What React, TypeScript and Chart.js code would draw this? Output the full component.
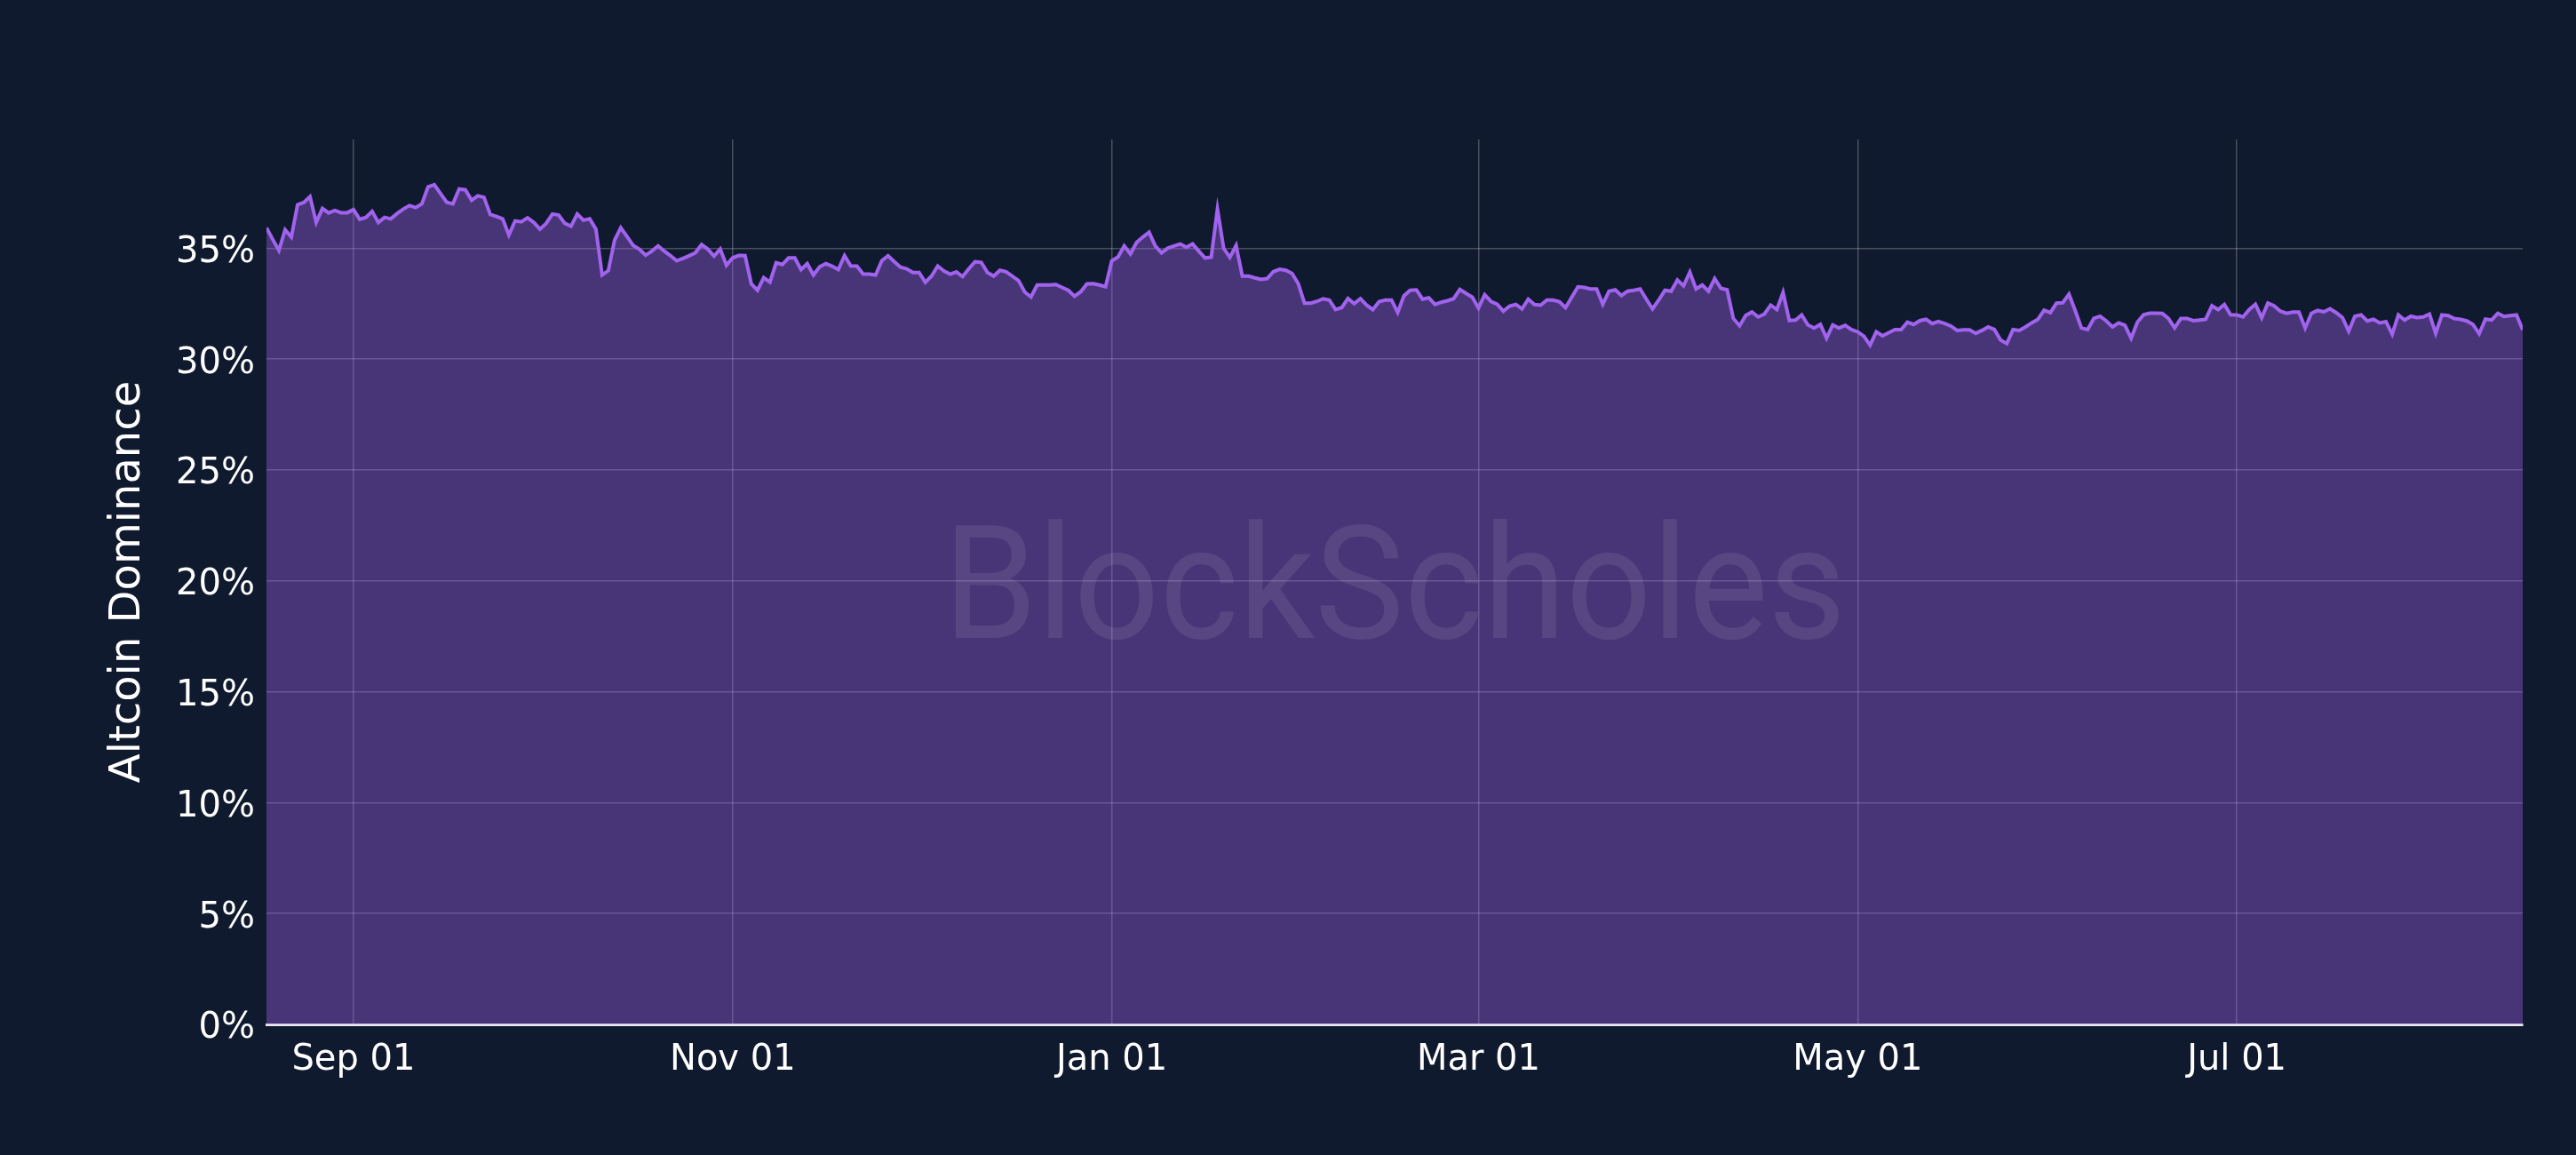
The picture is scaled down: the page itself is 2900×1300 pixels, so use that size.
import { useEffect, useRef } from 'react';
import { Chart, registerables } from 'chart.js';

Chart.register(...registerables);

// daily series, first point is Aug 18
const startDate = Date.UTC(2024, 7, 18);

const augSep = [
  35.92, 35.4, 34.9, 35.83, 35.5, 36.96, 37.06, 37.32, 36.16, 36.79,
  36.59, 36.7, 36.6, 36.6, 36.74, 36.3, 36.39, 36.66, 36.16, 36.39,
  36.32, 36.56, 36.76, 36.92, 36.83, 37.0, 37.76, 37.86, 37.46, 37.07,
  37.0, 37.67, 37.63, 37.16, 37.36, 37.29, 36.52, 36.43, 36.32, 35.59,
  36.23, 36.19, 36.37, 36.16,
];
const octNov = [
  35.86, 36.12, 36.54, 36.49, 36.12, 35.99, 36.54, 36.26, 36.32, 35.86,
  33.79, 33.99, 35.36, 35.92, 35.53, 35.12, 34.95, 34.68, 34.87, 35.1,
  34.87, 34.66, 34.43, 34.54, 34.66, 34.79, 35.16, 34.96, 34.64, 34.96,
  34.23, 34.56, 34.67, 34.66, 33.39, 33.1, 33.67, 33.47, 34.34, 34.26,
  34.56, 34.56, 34.03, 34.3, 33.79, 34.16, 34.3, 34.19, 34.03, 34.66,
  34.2, 34.19, 33.83, 33.83, 33.79, 34.43, 34.66, 34.39, 34.14, 34.07,
  33.9,
];
const decJan = [
  33.9, 33.46, 33.74, 34.19, 33.97, 33.83, 33.93, 33.72, 34.07, 34.39,
  34.36, 33.9, 33.74, 34.0, 33.94, 33.74, 33.54, 33.02, 32.8, 33.34,
  33.34, 33.34, 33.36, 33.23, 33.1, 32.83, 33.03, 33.39, 33.4, 33.34,
  33.26, 34.43, 34.6, 35.1, 34.74, 35.26, 35.5, 35.72, 35.1, 34.79,
  35.0, 35.1, 35.19, 35.04, 35.19, 34.87, 34.56, 34.59, 36.76, 34.99,
  34.59, 35.12, 33.74, 33.74, 33.66, 33.59, 33.63, 33.94, 34.05, 34.0,
  33.86, 33.4,
];
const febMar = [
  32.52, 32.52, 32.6, 32.72, 32.66, 32.23, 32.32, 32.73, 32.5, 32.72,
  32.43, 32.23, 32.59, 32.66, 32.66, 32.1, 32.85, 33.1, 33.12, 32.7,
  32.76, 32.46, 32.56, 32.63, 32.72, 33.14, 32.96, 32.79, 32.3, 32.9,
  32.6, 32.47, 32.16, 32.39, 32.46, 32.26, 32.7, 32.46, 32.43, 32.66,
  32.66, 32.59, 32.32, 32.79, 33.26, 33.23, 33.16, 33.16, 32.47, 33.06,
  33.12, 32.86, 33.06, 33.1, 33.16, 32.7, 32.26, 32.66, 33.1,
];
const aprMay = [
  33.06, 33.56, 33.3, 33.92, 33.16, 33.34, 33.06, 33.63, 33.19, 33.12,
  31.83, 31.5, 31.97, 32.12, 31.9, 32.03, 32.43, 32.23, 33.0, 31.74,
  31.76, 31.99, 31.54, 31.4, 31.56, 30.94, 31.54, 31.4, 31.52, 31.33,
  31.23, 31.03, 30.63, 31.23, 31.05, 31.19, 31.33, 31.33, 31.66, 31.56,
  31.73, 31.79, 31.6, 31.69, 31.6, 31.49, 31.29, 31.32, 31.32, 31.16,
  31.29, 31.45, 31.33, 30.86, 30.7, 31.33, 31.29, 31.45, 31.63, 31.79,
  32.2,
];
const junAug = [
  32.09, 32.52, 32.54, 32.92, 32.19, 31.4, 31.33, 31.83, 31.93, 31.72,
  31.45, 31.63, 31.52, 30.94, 31.66, 32.0, 32.07, 32.07, 32.06, 31.83,
  31.4, 31.83, 31.83, 31.73, 31.76, 31.79, 32.4, 32.23, 32.46, 32.0,
  31.99, 31.9, 32.23, 32.47, 31.86, 32.52, 32.4, 32.16, 32.06, 32.12,
  32.12, 31.4, 32.06, 32.19, 32.13, 32.27, 32.09, 31.87, 31.26, 31.93,
  31.99, 31.72, 31.79, 31.63, 31.69, 31.12, 31.99, 31.76, 31.93, 31.87,
  31.9, 32.03, 31.16, 31.99, 31.96, 31.83, 31.79, 31.72, 31.56, 31.14,
  31.8, 31.76, 32.06, 31.92, 31.96, 31.99, 31.32,
];

const dominance = [...augSep, ...octNov, ...decJan, ...febMar, ...aprMay, ...junAug];

const xTickLabels = ['Sep 01', 'Nov 01', 'Jan 01', 'Mar 01', 'May 01', 'Jul 01'];
const yTicks = [0, 5, 10, 15, 20, 25, 30, 35];
const yTitle = 'Altcoin Dominance';
const watermark = 'BlockScholes';

const BG = '#101a2e';
const LINE = '#a163ee';
const FILL = 'rgba(157, 94, 230, 0.4)';
const GRID = 'rgba(255, 255, 255, 0.24)';
const FONT = 'DejaVu Sans';

const MONTHS = ['Jan', 'Feb', 'Mar', 'Apr', 'May', 'Jun', 'Jul', 'Aug', 'Sep', 'Oct', 'Nov', 'Dec'];

function dayLabel(i: number) {
  const d = new Date(startDate + i * 86400000);
  return `${MONTHS[d.getUTCMonth()]} ${String(d.getUTCDate()).padStart(2, '0')}`;
}

const tickDays = xTickLabels.map((l) => dominance.findIndex((_, i) => dayLabel(i) === l));

const background = {
  id: 'background',
  beforeDraw(chart: Chart) {
    const { ctx, width, height } = chart;
    ctx.save();
    ctx.fillStyle = BG;
    ctx.fillRect(0, 0, width, height);
    ctx.restore();
  },
};

const logo = {
  id: 'logo',
  afterDatasetsDraw(chart: Chart) {
    const { ctx, chartArea } = chart;
    const { left, right, top, bottom } = chartArea;
    const size = 178;
    ctx.save();
    ctx.font = `400 ${size}px Roboto`;
    ctx.fillStyle = 'rgba(255, 255, 255, 0.085)';
    ctx.textAlign = 'center';
    ctx.textBaseline = 'alphabetic';
    const cx = (left + right) / 2;
    const cy = (top + bottom) / 2 + (size * 0.711) / 2;
    ctx.fillText(watermark, cx, cy, (right - left) * 0.4);
    ctx.restore();
  },
};

export default function App() {
  const canvasRef = useRef<HTMLCanvasElement>(null);

  useEffect(() => {
    if (!canvasRef.current) return;
    document.body.style.margin = '0';
    document.body.style.background = BG;

    const chart = new Chart(canvasRef.current, {
      type: 'line',
      data: {
        datasets: [
          {
            label: yTitle,
            data: dominance.map((v, i) => ({ x: i, y: v })),
            borderColor: LINE,
            backgroundColor: FILL,
            borderWidth: 4,
            fill: 'origin',
            pointRadius: 0,
            tension: 0,
          },
        ],
      },
      options: {
        animation: false,
        responsive: true,
        maintainAspectRatio: false,
        layout: { padding: { top: 157, right: 60, left: 0, bottom: 0 } },
        plugins: {
          legend: { display: false },
          tooltip: { enabled: false },
        },
        scales: {
          x: {
            type: 'linear',
            min: 0,
            max: dominance.length - 1,
            afterBuildTicks: (s: any) => {
              s.ticks = tickDays.map((v) => ({ value: v }));
            },
            afterFit: (s: any) => {
              s.height = 147;
            },
            ticks: {
              autoSkip: false,
              maxRotation: 0,
              color: '#ffffff',
              font: { family: FONT, size: 40 },
              padding: 17,
              callback: (v: any) => dayLabel(Number(v)),
            },
            grid: { color: GRID, lineWidth: 1.5, drawTicks: false },
            border: { display: true, color: 'rgba(255, 255, 255, 0.9)', width: 3 },
          },
          y: {
            min: 0,
            max: 39.9,
            afterBuildTicks: (s: any) => {
              s.ticks = yTicks.map((v) => ({ value: v }));
            },
            afterFit: (s: any) => {
              s.width = 300;
            },
            ticks: {
              color: '#ffffff',
              font: { family: FONT, size: 40 },
              padding: 13,
              labelOffset: 5,
              callback: (v: any) => `${v}%`,
            },
            grid: { color: GRID, lineWidth: 1.5, drawTicks: false },
            border: { display: false },
            title: {
              display: true,
              text: yTitle,
              color: '#ffffff',
              font: { family: FONT, size: 48 },
              padding: { top: 116, bottom: 0 },
            },
          },
        },
      },
      plugins: [background, logo],
    });

    return () => chart.destroy();
  }, []);

  return (
    <div style={{ position: 'relative', width: 2900, height: 1300 }}>
      <canvas ref={canvasRef}></canvas>
    </div>
  );
}
